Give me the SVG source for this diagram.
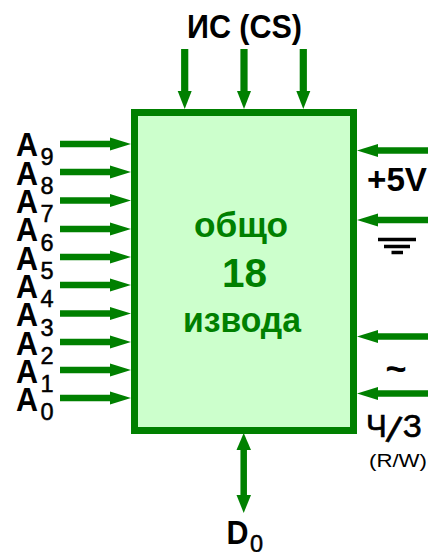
<svg xmlns="http://www.w3.org/2000/svg" width="428" height="552" viewBox="0 0 428 552">
<style>
text{font-family:"Liberation Sans",Arial,sans-serif;font-weight:bold;fill:#000}
.a{font-size:33px}.s{font-size:23.500px;font-weight:normal;stroke:#000;stroke-width:.5px}
.g{fill:#008000;text-anchor:middle}
.w{stroke:#008000;stroke-width:6.500px;fill:none}
.h{fill:#008000}
</style>
<defs>
<g id="ar"><path class="w" d="M60 0H112"/><path class="h" d="M110-6.500L131 0L110 6.500Z"/></g>
<g id="al"><path class="w" d="M428 0H376"/><path class="h" d="M378-6.500L357 0L378 6.500Z"/></g>
<g id="ad"><path class="w" d="M0 49V93" style="stroke-width:7.200px"/><path class="h" d="M-7 91L0 109L7 91Z"/></g>
</defs>
<g id="connectors">
<use href="#ad" x="184.700"/><use href="#ad" x="244"/><use href="#ad" x="303.300"/>
<use href="#ar" y="144"/><use href="#ar" y="172"/><use href="#ar" y="200.500"/><use href="#ar" y="229"/><use href="#ar" y="257"/><use href="#ar" y="285"/><use href="#ar" y="313.500"/><use href="#ar" y="342"/><use href="#ar" y="370"/><use href="#ar" y="398"/>
<use href="#al" y="150.500"/><use href="#al" y="220"/><use href="#al" y="336.500"/><use href="#al" y="393.500"/>
<path class="w" d="M243.700 448V497"/><path class="h" d="M243.700 433L251 450H236.500Z"/><path class="h" d="M243.700 513L251 495H236.500Z"/>
</g>
<g id="chip">
<rect x="134.500" y="112.500" width="219" height="318" fill="#ccffcc" stroke="#008000" stroke-width="7"/>
<text class="g" x="241" y="237" style="font-size:35px" textLength="94" lengthAdjust="spacingAndGlyphs">общо</text>
<text class="g" x="244.500" y="287" style="font-size:40px" textLength="45" lengthAdjust="spacingAndGlyphs">18</text>
<text class="g" x="242" y="331.500" style="font-size:35px" textLength="118" lengthAdjust="spacingAndGlyphs">извода</text>
</g>
<g id="cs"><text x="187" y="38" style="font-size:33px" textLength="115" lengthAdjust="spacingAndGlyphs">ИС (CS)</text></g>
<g id="address">
<text class="a" x="16" y="156" textLength="22" lengthAdjust="spacingAndGlyphs">A</text><text class="s" x="40.500" y="165">9</text>
<text class="a" x="16" y="184.500" textLength="22" lengthAdjust="spacingAndGlyphs">A</text><text class="s" x="40.500" y="194">8</text>
<text class="a" x="16" y="213" textLength="22" lengthAdjust="spacingAndGlyphs">A</text><text class="s" x="40.500" y="222">7</text>
<text class="a" x="16" y="241" textLength="22" lengthAdjust="spacingAndGlyphs">A</text><text class="s" x="40.500" y="250.500">6</text>
<text class="a" x="16" y="269.500" textLength="22" lengthAdjust="spacingAndGlyphs">A</text><text class="s" x="40.500" y="279">5</text>
<text class="a" x="16" y="298" textLength="22" lengthAdjust="spacingAndGlyphs">A</text><text class="s" x="40.500" y="307">4</text>
<text class="a" x="16" y="326" textLength="22" lengthAdjust="spacingAndGlyphs">A</text><text class="s" x="40.500" y="335.500">3</text>
<text class="a" x="16" y="354.500" textLength="22" lengthAdjust="spacingAndGlyphs">A</text><text class="s" x="40.500" y="363.500">2</text>
<text class="a" x="16" y="382.500" textLength="22" lengthAdjust="spacingAndGlyphs">A</text><text class="s" x="40.500" y="392">1</text>
<text class="a" x="16" y="411" textLength="22" lengthAdjust="spacingAndGlyphs">A</text><text class="s" x="40.500" y="420">0</text>
</g>
<g id="power">
<text x="367" y="190.500" style="font-size:33px" textLength="60" lengthAdjust="spacingAndGlyphs">+5V</text>
<path d="M378 239.500H416M384 246.500H410" stroke="#000" stroke-width="3.500" fill="none"/><path d="M391.500 252.500H403" stroke="#000" stroke-width="3.500" fill="none"/>
<text x="396" y="381" text-anchor="middle" style="font-size:36px">~</text>
</g>
<g id="rw">
<text x="366" y="437" style="font-size:31px;font-weight:normal;stroke:#000;stroke-width:.7px">Ч<tspan dx="-1" dy="4" rotate="14" style="font-size:37px">/</tspan><tspan dx="7" dy="-4">З</tspan></text>
<text x="369" y="467" style="font-size:19px;font-weight:normal" textLength="58" lengthAdjust="spacingAndGlyphs">(R/W)</text>
</g>
<g id="data"><text x="226.500" y="544" style="font-size:33px" textLength="22" lengthAdjust="spacingAndGlyphs">D</text><text class="s" x="250" y="551.500">0</text></g>
</svg>
